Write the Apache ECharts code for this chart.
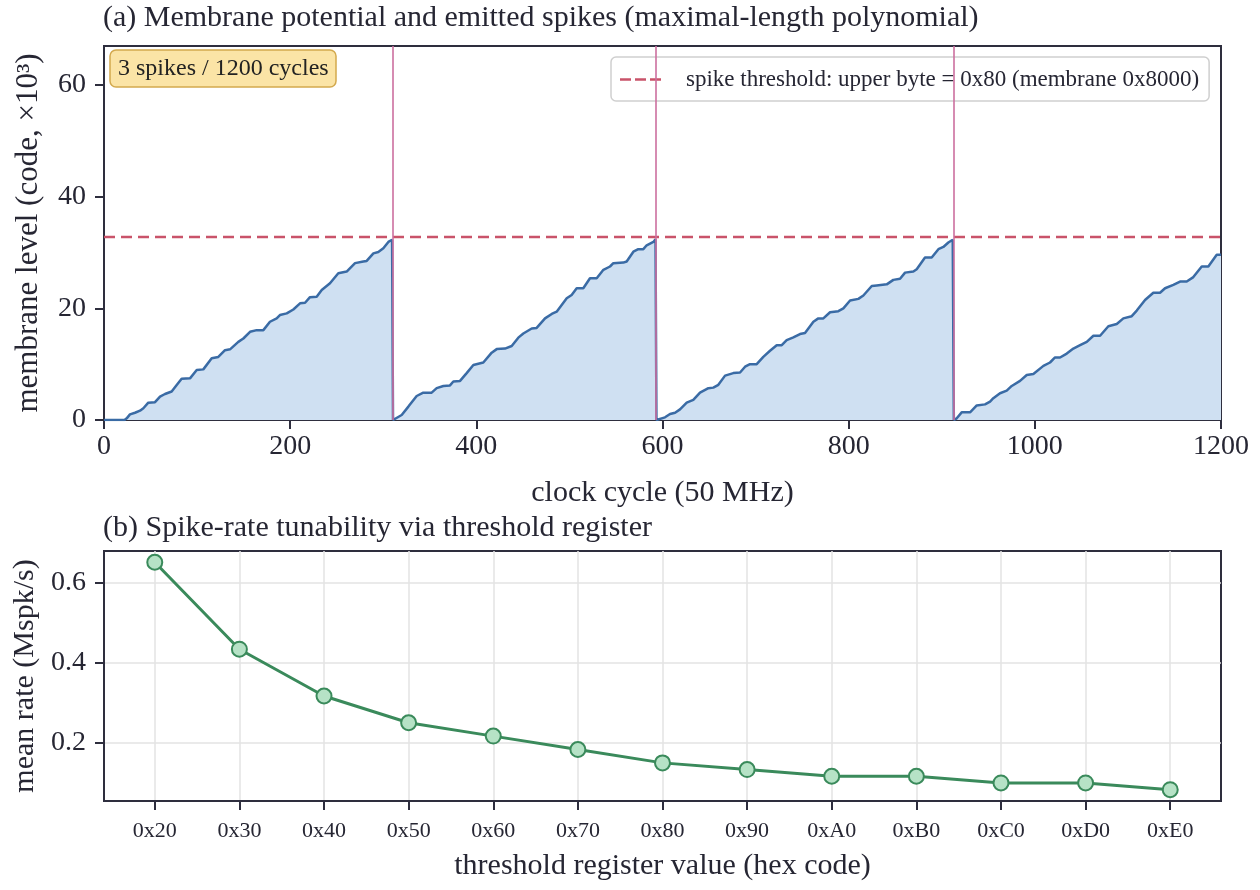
<!DOCTYPE html>
<html>
<head>
<meta charset="utf-8">
<script src="https://cdn.jsdelivr.net/npm/echarts@6/dist/echarts.min.js"></script>
<style>
html,body{margin:0;padding:0;background:#fff;}
#chart{width:1260px;height:890px;}
</style>
</head>
<body>
<div id="chart"></div>
<script>
// ---- Panel (a): membrane potential ----
const membraneCycles = [
  0, 22, 24.4, 27.9, 33.3, 38.7, 42.3, 47.6, 54.8, 60.2, 65.5, 72.7, 78.1, 83.4, 92.4, 99.6, 106.7, 115.7, 122.8, 130, 135.4,
  144.3, 149.7, 156.9, 164, 171.2, 178.3, 185.5, 189, 196.3, 203.4, 210.6, 216, 221.3, 228.5, 233.9, 242.8, 251.7, 260.7,
  269.7, 278.6, 282.2, 289.4, 294.7, 300.1, 305.5, 309.5, 310.5,
  312.6, 319.8, 327, 335.9, 343, 352, 357.4, 364.6, 371.7, 375.3, 382.5, 389.6, 396.8, 407.5, 416.5, 421.9, 430.8, 438,
  445.1, 450.5, 459.5, 464.8, 473.8, 481, 486.3, 497.1, 502.4, 507.8, 514.9, 522.1, 529.3, 536.5, 543.6, 547.2, 557.9,
  561.5, 568.7, 574, 579.4, 583, 590.2, 592.5, 593.5,
  595.5, 602.7, 608.1, 613.5, 618.8, 626, 633.1, 640.3, 649.3, 654.6, 660, 667.2, 676.1, 683.3, 688.7, 694, 701.2, 708.3,
  715.5, 722.7, 728.1, 733.4, 740.6, 747.7, 753.1, 762.1, 767.4, 772.8, 780, 788.9, 794.3, 801.5, 810.4, 815.8, 824.8,
  830.1, 840.9, 848, 855.2, 860.6, 869.5, 873.1, 882, 889.2, 896.4, 901.7, 907.1, 911.8, 913,
  916.1, 921.4, 930.4, 937.6, 946.5, 951.9, 955.4, 962.6, 969.8, 975.2, 984.1, 991.3, 998.4, 1009.2, 1016.3, 1021.7,
  1027.1, 1034.3, 1041.4, 1048.6, 1055.8, 1062.9, 1070.1, 1079, 1088, 1095.1, 1104.1, 1109.5, 1118.4, 1127.3, 1134.5,
  1139.9, 1148.8, 1156, 1163.2, 1170.3, 1179.3, 1186.4, 1195.4, 1200
];
const membraneLevels = [ // x10^3 codes
  0, 0, 0.3, 1.0, 1.3, 1.67, 2.1, 3.1, 3.2, 4.2, 4.66, 5.1, 6.27, 7.4, 7.46, 8.96, 9.07, 11.05, 11.3, 12.5, 12.66,
  14.0, 14.6, 15.8, 16.1, 16.1, 17.6, 18.2, 18.8, 19.1, 19.8, 20.9, 21.0, 22.0, 22.1, 23.3, 24.5, 26.3, 26.6,
  28.1, 28.4, 28.5, 29.85, 30.1, 30.75, 31.9, 32.3, 0,
  0.1, 0.9, 2.4, 4.3, 4.9, 4.9, 5.7, 6.1, 6.2, 6.9, 7.0, 8.4, 9.85, 10.3, 12.06, 12.7, 12.8, 13.25,
  14.75, 15.5, 16.4, 16.5, 18.2, 19.0, 19.4, 21.8, 22.4, 23.6, 23.6, 25.4, 25.4, 26.9, 27.5, 28.1, 28.2,
  28.4, 30.15, 30.6, 30.6, 31.3, 31.9, 32.4, 0,
  0.3, 0.48, 1.07, 1.3, 1.9, 3.1, 3.6, 4.9, 5.7, 5.8, 6.3, 7.95, 8.4, 8.5, 9.55, 10.0, 10.0, 11.3,
  12.4, 13.4, 13.4, 14.3, 14.8, 15.4, 15.6, 17.6, 18.2, 18.2, 19.3, 19.5, 20.0, 21.4, 21.7, 22.3, 24.0,
  24.1, 24.3, 25.1, 25.3, 26.4, 26.6, 27.0, 29.1, 29.1, 30.6, 31.0, 31.8, 32.3, 0,
  0.3, 1.37, 1.37, 2.6, 2.8, 3.3, 3.9, 4.8, 5.25, 6.1, 7.0, 8.06, 8.24, 9.7, 10.3, 11.2,
  11.2, 11.9, 12.8, 13.4, 14.0, 15.1, 15.1, 16.8, 17.2, 18.2, 18.6, 19.6, 21.5, 22.8, 22.8,
  23.6, 24.2, 24.8, 24.8, 25.6, 27.5, 27.5, 29.6, 29.6
];
const spikeCycles = [310, 593, 913];
const thresholdLevel = 32.768;          // 0x8000 / 1000
const cycleRange = [0, 1200];
const membraneTicks = [0, 20, 40, 60];
const thresholdName = 'spike threshold: upper byte = 0x80 (membrane 0x8000)';
const annotationText = '3 spikes / 1200 cycles';

// ---- Panel (b): spike-rate tunability ----
const thresholdCodes = ['0x20','0x30','0x40','0x50','0x60','0x70','0x80','0x90','0xA0','0xB0','0xC0','0xD0','0xE0'];
const meanRates = [0.65, 0.4333, 0.3167, 0.25, 0.2167, 0.1833, 0.15, 0.1333, 0.1167, 0.1167, 0.1, 0.1, 0.0833];
const rateTicks = [0.2, 0.4, 0.6];

const FONT = '"Liberation Serif", "DejaVu Serif", serif';
const TXT = '#262633';
const SPINE = '#2e2e3e';
const THR_COLOR = '#c9536a';

const chart = echarts.init(document.getElementById('chart'), null, {renderer: 'canvas'});

const membraneData = membraneCycles.map((c, i) => [c, membraneLevels[i]]);
const rateData = meanRates.map((r, i) => [i, r]);
const codeIdx = thresholdCodes.map((c, i) => i);

const dashedIcon = 'path://M0,0H11V2.5H0Z M15,0H26V2.5H15Z M30,0H41V2.5H30Z';

const option = {
  backgroundColor: '#ffffff',
  animation: false,
  textStyle: {fontFamily: FONT, color: TXT},
  title: [
    {text: '(a) Membrane potential and emitted spikes (maximal-length polynomial)', left: 103, top: 3, padding: 0,
     textStyle: {fontFamily: FONT, fontSize: 30, fontWeight: 'normal', color: TXT}},
    {text: '(b) Spike-rate tunability via threshold register', left: 103, top: 513, padding: 0,
     textStyle: {fontFamily: FONT, fontSize: 30, fontWeight: 'normal', color: TXT}},
    {text: annotationText, left: 110, top: 50, padding: [7, 8, 6, 8],
     backgroundColor: '#fbe4a6', borderColor: '#d3a94e', borderWidth: 1.5, borderRadius: 6,
     textStyle: {fontFamily: FONT, fontSize: 24, fontWeight: 'normal', color: '#222'}}
  ],
  legend: {
    data: [{name: thresholdName, icon: dashedIcon}],
    left: 611, top: 57,
    padding: [11, 10, 10, 9],
    itemWidth: 41, itemHeight: 3,
    itemStyle: {color: THR_COLOR, borderWidth: 0},
    backgroundColor: 'rgba(255,255,255,0.8)',
    borderColor: '#cfcfcf', borderWidth: 1.5, borderRadius: 5,
    textStyle: {fontFamily: FONT, fontSize: 23, color: TXT, padding: [0, 0, 0, 20]},
    selectedMode: false
  },
  grid: [
    {left: 104, right: 39, top: 46, height: 374, show: true, borderColor: SPINE, borderWidth: 2, backgroundColor: 'transparent'},
    {left: 104, right: 39, top: 551, height: 250, show: true, borderColor: SPINE, borderWidth: 2, backgroundColor: 'transparent'}
  ],
  xAxis: [
    {type: 'value', gridIndex: 0, min: cycleRange[0], max: cycleRange[1], interval: 200,
     name: 'clock cycle (50 MHz)', nameLocation: 'middle', nameGap: 58,
     nameTextStyle: {fontFamily: FONT, fontSize: 30, color: TXT},
     axisLine: {show: true, onZero: false, lineStyle: {color: SPINE, width: 2}},
     axisTick: {show: true, length: 9, lineStyle: {color: SPINE, width: 2}},
     axisLabel: {fontFamily: FONT, fontSize: 28, color: TXT, margin: 13, formatter: v => String(v)},
     splitLine: {show: false}},
    {type: 'value', gridIndex: 1, min: -0.6, max: 12.6,
     name: 'threshold register value (hex code)', nameLocation: 'middle', nameGap: 50,
     nameTextStyle: {fontFamily: FONT, fontSize: 30, color: TXT},
     axisLine: {show: true, onZero: false, lineStyle: {color: SPINE, width: 2}},
     axisTick: {show: true, length: 9, customValues: codeIdx, lineStyle: {color: SPINE, width: 2}},
     axisLabel: {fontFamily: FONT, fontSize: 22, color: TXT, margin: 19, customValues: codeIdx,
                 formatter: v => thresholdCodes[Math.round(v)] || ''},
     splitLine: {show: true, lineStyle: {color: '#e3e3e3', width: 1.5}}}
  ],
  yAxis: [
    {type: 'value', gridIndex: 0, min: 0, max: 67,
     name: 'membrane level (code, ×10³)', nameLocation: 'middle', nameGap: 60,
     nameTextStyle: {fontFamily: FONT, fontSize: 31, color: TXT},
     axisLine: {show: true, onZero: false, lineStyle: {color: SPINE, width: 2}},
     axisTick: {show: true, length: 9, customValues: membraneTicks, lineStyle: {color: SPINE, width: 2}},
     axisLabel: {fontFamily: FONT, fontSize: 28, color: TXT, margin: 18, customValues: membraneTicks},
     splitLine: {show: false}},
    {type: 'value', gridIndex: 1, min: 0.055, max: 0.678,
     name: 'mean rate (Mspk/s)', nameLocation: 'middle', nameGap: 60,
     nameTextStyle: {fontFamily: FONT, fontSize: 30, color: TXT},
     axisLine: {show: true, onZero: false, lineStyle: {color: SPINE, width: 2}},
     axisTick: {show: true, length: 9, customValues: rateTicks, lineStyle: {color: SPINE, width: 2}},
     axisLabel: {fontFamily: FONT, fontSize: 28, color: TXT, margin: 18, customValues: rateTicks,
                 formatter: v => v.toFixed(1)},
     splitLine: {show: true, lineStyle: {color: '#e3e3e3', width: 1.5}}}
  ],
  series: [
    {name: 'membrane', type: 'line', xAxisIndex: 0, yAxisIndex: 0, data: membraneData,
     symbol: 'none', showSymbol: false, silent: true, z: 2,
     lineStyle: {color: '#3a6ba5', width: 2.5},
     areaStyle: {color: '#cfe0f2', opacity: 1}},
    {name: 'spikes', type: 'line', xAxisIndex: 0, yAxisIndex: 0, data: [], silent: true, z: 3,
     markLine: {silent: true, symbol: ['none', 'none'], label: {show: false},
       lineStyle: {color: '#cc6f9f', width: 2, type: 'solid', opacity: 0.8},
       emphasis: {disabled: true},
       data: spikeCycles.map(c => ({xAxis: c}))}},
    {name: thresholdName, type: 'line', xAxisIndex: 0, yAxisIndex: 0,
     data: cycleRange.map(c => [c, thresholdLevel]),
     symbol: 'none', showSymbol: false, silent: true, z: 4,
     lineStyle: {color: THR_COLOR, width: 2.5, type: [11, 6]},
     itemStyle: {color: THR_COLOR}},
    {name: 'mean rate', type: 'line', xAxisIndex: 1, yAxisIndex: 1, data: rateData,
     symbol: 'circle', symbolSize: 15, silent: true, z: 5,
     lineStyle: {color: '#3a8a5b', width: 3},
     itemStyle: {color: '#b6e2c6', borderColor: '#3a8a5b', borderWidth: 2}}
  ]
};
chart.setOption(option);
</script>
</body>
</html>
